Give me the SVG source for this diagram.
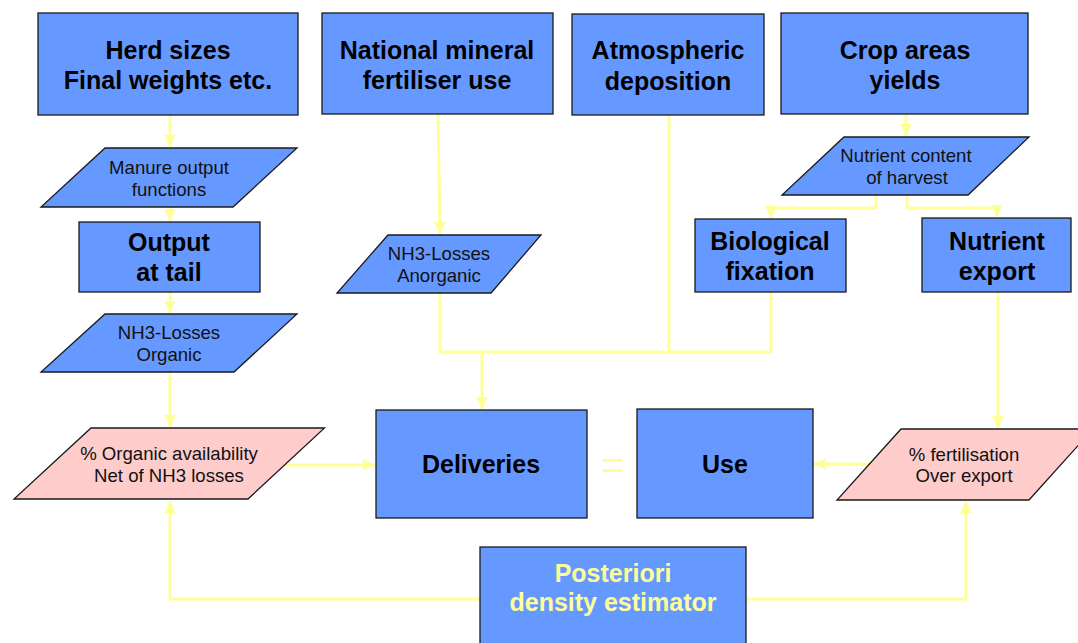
<svg xmlns="http://www.w3.org/2000/svg" width="1078" height="643" viewBox="0 0 1078 643">
<style>
.box{fill:#6699ff;stroke:#1a1a1a;stroke-width:1.3}
.para{fill:#6699ff;stroke:#1a1a1a;stroke-width:1.3}
.pink{fill:#ffcccc;stroke:#1a1a1a;stroke-width:1.3}
.big{font-family:"Liberation Sans",Arial,sans-serif;font-weight:bold;font-size:25px;fill:#000;text-anchor:middle}
.small{font-family:"Liberation Sans",Arial,sans-serif;font-size:18.6px;fill:#111;text-anchor:middle}
.yel{fill:#ffff99}
.conn{fill:none;stroke:#ffff99;stroke-width:3}
</style>
<defs>
<marker id="arr" markerUnits="userSpaceOnUse" markerWidth="13" markerHeight="13" viewBox="0 0 13 13" refX="12" refY="6.5" orient="auto">
<path d="M0,0.5 L12,6.5 L0,12.5 Z" fill="#ffff99"/>
</marker>
</defs>
<rect width="1078" height="643" fill="#ffffff"/>

<g id="connectors">
<path class="conn" d="M170,115 V147" marker-end="url(#arr)"/>
<path class="conn" d="M170,207 V221" marker-end="url(#arr)"/>
<path class="conn" d="M170,292 V313" marker-end="url(#arr)"/>
<path class="conn" d="M170,372 V427" marker-end="url(#arr)"/>
<path class="conn" d="M285,465 H375" marker-end="url(#arr)"/>
<path class="conn" d="M438,114 L440,234" marker-end="url(#arr)"/>
<path class="conn" d="M440,293 V352 H771 V292"/>
<path class="conn" d="M669,115 V352"/>
<path class="conn" d="M482,352 V409" marker-end="url(#arr)"/>
<path class="conn" d="M906,114 V136" marker-end="url(#arr)"/>
<path class="conn" d="M876,195 V208 H771 V218" marker-end="url(#arr)"/>
<path class="conn" d="M907,195 V208 H997 V217" marker-end="url(#arr)"/>
<path class="conn" d="M998,292 V428" marker-end="url(#arr)"/>
<path class="conn" d="M871,464 H814" marker-end="url(#arr)"/>
<path class="conn" d="M480,599 H170 V501" marker-end="url(#arr)"/>
<path class="conn" d="M746,599 H966 V501" marker-end="url(#arr)"/>
</g>

<g id="herd">
<rect class="box" x="38" y="13" width="260" height="102"/>
<text class="big" x="168" y="59">Herd sizes</text>
<text class="big" x="168" y="89">Final weights etc.</text>
</g>
<g id="national">
<rect class="box" x="322" y="13" width="231" height="101"/>
<text class="big" x="437" y="59">National mineral</text>
<text class="big" x="437" y="89">fertiliser use</text>
</g>
<g id="atmospheric">
<rect class="box" x="572" y="14" width="192" height="101"/>
<text class="big" x="668" y="59">Atmospheric</text>
<text class="big" x="668" y="90">deposition</text>
</g>
<g id="crop">
<rect class="box" x="781" y="13" width="247" height="101"/>
<text class="big" x="905" y="59">Crop areas</text>
<text class="big" x="905" y="89">yields</text>
</g>
<g id="manure">
<polygon class="para" points="105,148 297,148 233,207 41,207"/>
<text class="small" x="169" y="174">Manure output</text>
<text class="small" x="169" y="196">functions</text>
</g>
<g id="output">
<rect class="box" x="79" y="222" width="181" height="70"/>
<text class="big" x="169" y="251">Output</text>
<text class="big" x="169" y="281">at tail</text>
</g>
<g id="nh3organic">
<polygon class="para" points="105,314 297,314 234,372 41,372"/>
<text class="small" x="169" y="339">NH3-Losses</text>
<text class="small" x="169" y="361">Organic</text>
</g>
<g id="nh3anorganic">
<polygon class="para" points="388,235 541,235 491,293 337,293"/>
<text class="small" x="439" y="260">NH3-Losses</text>
<text class="small" x="439" y="282">Anorganic</text>
</g>
<g id="nutrientcontent">
<polygon class="para" points="844,137 1029,137 968,195 782,195"/>
<text class="small" x="906" y="162">Nutrient content</text>
<text class="small" x="907" y="184">of harvest</text>
</g>
<g id="biological">
<rect class="box" x="695" y="219" width="151" height="73"/>
<text class="big" x="770" y="250">Biological</text>
<text class="big" x="770" y="280">fixation</text>
</g>
<g id="nutrientexport">
<rect class="box" x="922" y="218" width="149" height="74"/>
<text class="big" x="997" y="250">Nutrient</text>
<text class="big" x="997" y="280">export</text>
</g>
<g id="organicavail">
<polygon class="pink" points="91,428 324.5,428 248,499 14,499"/>
<text class="small" x="169" y="460">% Organic availability</text>
<text class="small" x="169" y="482">Net of NH3 losses</text>
</g>
<g id="deliveries">
<rect class="box" x="376" y="410" width="211" height="108"/>
<text class="big" x="481" y="473">Deliveries</text>
</g>
<g id="equals">
<text x="613" y="479" font-family="Liberation Sans, Arial, sans-serif" font-size="40" fill="#ffff99" text-anchor="middle">=</text>
</g>
<g id="use">
<rect class="box" x="637" y="409" width="176" height="109"/>
<text class="big" x="725" y="473">Use</text>
</g>
<g id="fertilisation">
<polygon class="pink" points="901,429 1093,429 1029,500 837,500"/>
<text class="small" x="964" y="461">% fertilisation</text>
<text class="small" x="964" y="482">Over export</text>
</g>
<g id="posteriori">
<rect class="box" x="480" y="547" width="266" height="106"/>
<text class="big yel" x="613" y="582">Posteriori</text>
<text class="big yel" x="613" y="611">density estimator</text>
</g>
</svg>
